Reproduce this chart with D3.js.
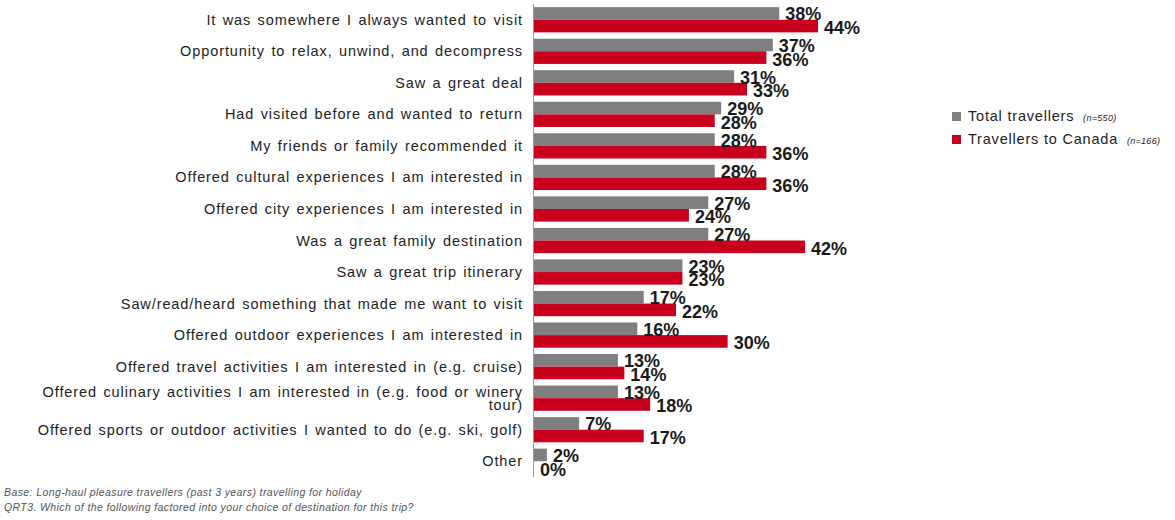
<!DOCTYPE html>
<html lang="en">
<head>
    <meta charset="UTF-8">
    <title>Factors in choice of destination</title>
    <script src="https://d3js.org/d3.v7.min.js"></script>
    <style>
        body { margin: 0; background: #fff; }
        text { font-family: "Liberation Sans", Arial, sans-serif; }
    </style>
</head>
<body>
<script>
// chart data
const categories = [
    "It was somewhere I always wanted to visit",
    "Opportunity to relax, unwind, and decompress",
    "Saw a great deal",
    "Had visited before and wanted to return",
    "My friends or family recommended it",
    "Offered cultural experiences I am interested in",
    "Offered city experiences I am interested in",
    "Was a great family destination",
    "Saw a great trip itinerary",
    "Saw/read/heard something that made me want to visit",
    "Offered outdoor experiences I am interested in",
    "Offered travel activities I am interested in (e.g. cruise)",
    "Offered culinary activities I am interested in (e.g. food or winery|tour)",
    "Offered sports or outdoor activities I wanted to do (e.g. ski, golf)",
    "Other"
];
const totalTravellers = [38, 37, 31, 29, 28, 28, 27, 27, 23, 17, 16, 13, 13, 7, 2];
const canadaTravellers = [44, 36, 33, 28, 36, 36, 24, 42, 23, 22, 30, 14, 18, 17, 0];
const seriesNames = ["Total travellers", "Travellers  to Canada"];
const seriesBases = ["(n=550)", "(n=166)"];
const seriesColors = ["#7f7f7f", "#c8001e"];
const footnotes = [
    "Base: Long-haul  pleasure  travellers (past 3 years) travelling for holiday",
    "QRT3.  Which of the following factored into your choice of destination for this trip?"
];

const width = 1175, height = 520;
const svg = d3.select("body").append("svg")
    .attr("width", width)
    .attr("height", height);

const x = d3.scaleLinear().domain([0, 44]).range([534, 818]);
const y = d3.scaleBand().domain(categories).range([4, 477]).paddingInner(0.2).paddingOuter(0.1);
const sub = d3.scaleBand().domain([0, 1]).range([0, y.bandwidth()]);

// category labels (reference text is set quite loose)
const labels = svg.append("g").selectAll("text")
    .data(categories)
    .join("text")
    .attr("x", 523)
    .attr("text-anchor", "end")
    .attr("font-size", 14.5)
    .attr("letter-spacing", 0.9)
    .attr("word-spacing", 1.5)
    .attr("fill", "#222");
labels.each(function(d) {
    const parts = d.split("|");
    const t = d3.select(this);
    const cy = y(d) + y.bandwidth() / 2;
    parts.forEach((p, i) => {
        t.append("tspan")
            .attr("x", 523)
            .attr("y", cy + 5 + (i - (parts.length - 1) / 2) * 13)
            .text(p);
    });
});

// bars
const series = [totalTravellers, canadaTravellers];
series.forEach((vals, s) => {
    const g = svg.append("g");
    g.selectAll("rect")
        .data(vals)
        .join("rect")
        .attr("x", x(0))
        .attr("y", (d, i) => y(categories[i]) + sub(s))
        .attr("width", d => x(d) - x(0))
        .attr("height", sub.bandwidth())
        .attr("fill", seriesColors[s]);
});

// axis line
svg.append("line")
    .attr("x1", 533.5).attr("x2", 533.5)
    .attr("y1", 4).attr("y2", 477)
    .attr("stroke", "#999");

// value labels
series.forEach((vals, s) => {
    svg.append("g").selectAll("text")
        .data(vals)
        .join("text")
        .attr("x", d => x(d) + 6)
        .attr("y", (d, i) => y(categories[i]) + sub(s) + sub.bandwidth() / 2 + 7 + s)
        .attr("font-size", 18)
        .attr("font-weight", "bold")
        .attr("fill", "#1a1a1a")
        .text(d => d + "%");
});

// legend
const legend = svg.append("g").attr("transform", "translate(952,112)");
seriesNames.forEach((n, i) => {
    const row = legend.append("g").attr("transform", `translate(0,${i * 23})`);
    row.append("rect").attr("width", 9).attr("height", 9).attr("fill", seriesColors[i]);
    const t = row.append("text").attr("x", 16).attr("y", 9)
        .attr("font-size", 14.5).attr("letter-spacing", 0.8).attr("fill", "#222");
    t.append("tspan").text(n + " ");
    t.append("tspan").attr("dx", 4).attr("font-size", 9).attr("letter-spacing", 0.3)
        .attr("font-style", "italic").text(seriesBases[i]);
});

// footnotes
svg.append("g").selectAll("text")
    .data(footnotes)
    .join("text")
    .attr("x", 4)
    .attr("y", (d, i) => 496 + i * 15)
    .attr("font-size", 10.5)
    .attr("letter-spacing", 0.4)
    .attr("font-style", "italic")
    .attr("fill", "#555")
    .text(d => d);
</script>
</body>
</html>
